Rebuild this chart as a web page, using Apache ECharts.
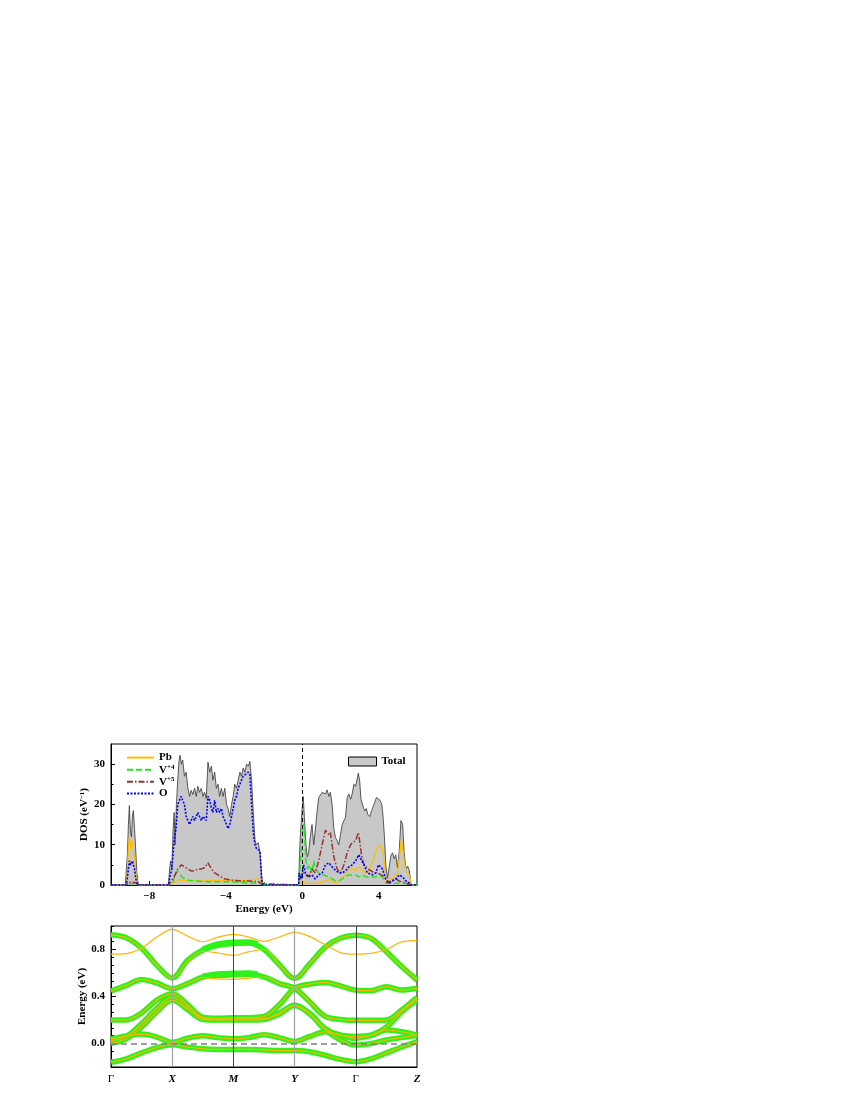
<!DOCTYPE html>
<html><head><meta charset="utf-8">
<script src="https://cdn.jsdelivr.net/npm/echarts@6.0.0/dist/echarts.min.js"></script>
<style>html,body{margin:0;padding:0;background:#fff}#c{width:850px;height:1100px}</style>
</head><body><div id="c"></div>
<script>
// ---------- DOS panel data: [energy (eV), DOS] ----------
const DOS_TOTAL = [[-10,0],[-9.25,0],[-9.23,0],[-9.14,8],[-9.09,15],[-9.04,19.7],[-8.98,13],[-8.93,12],[-8.88,17],[-8.83,18.5],[-8.77,14],[-8.72,10],[-8.65,3],[-8.58,0.5],[-8.53,0],
[-7.0,0],[-6.95,3],[-6.89,6],[-6.82,4],[-6.75,14],[-6.7,18],[-6.65,10],[-6.58,20],[-6.51,26],[-6.44,31],[-6.39,32.2],[-6.32,30],[-6.25,31],[-6.16,27],[-6.07,28],[-5.98,24],[-5.89,22],[-5.81,23.5],[-5.72,22.5],[-5.63,24],[-5.54,22],[-5.46,24.5],[-5.37,23],[-5.28,24],[-5.19,22],[-5.11,23],[-5.02,21.5],[-4.93,30.5],[-4.84,28],[-4.75,29.5],[-4.67,26],[-4.58,28],[-4.49,24],[-4.4,25],[-4.32,22],[-4.23,24],[-4.14,22],[-4.05,24],[-3.96,20],[-3.88,19],[-3.79,17],[-3.7,20],[-3.61,22],[-3.53,25],[-3.44,24],[-3.35,26],[-3.26,28],[-3.18,27],[-3.09,29],[-3.0,28],[-2.91,30],[-2.82,29.5],[-2.74,30.7],[-2.65,26],[-2.56,18],[-2.47,11],[-2.39,10],[-2.3,10.5],[-2.21,8],[-2.12,2],[-2.04,0],
[-0.19,0],[-0.14,8],[-0.09,13],[-0.02,18],[0.05,22],[0.11,17],[0.18,11],[0.26,7],[0.33,8],[0.42,12],[0.51,15],[0.6,10],[0.68,13.5],[0.77,18],[0.86,21.7],[0.95,22],[1.04,23],[1.12,23.4],[1.21,22.6],[1.3,23.6],[1.39,22],[1.47,23],[1.56,20],[1.65,14],[1.74,11.75],[1.82,11],[1.91,10],[2.0,12.5],[2.09,15],[2.18,16],[2.26,16.75],[2.35,21.7],[2.44,22.6],[2.53,21.3],[2.61,22.6],[2.7,25],[2.79,24.5],[2.86,26],[2.93,27.75],[3.0,26],[3.07,21.3],[3.14,21],[3.21,19],[3.28,18.4],[3.35,19],[3.42,17.6],[3.53,17],[3.63,18.5],[3.75,20],[3.88,21.75],[3.98,22],[4.07,21],[4.16,20],[4.23,16.75],[4.3,11.75],[4.37,5],[4.46,1.75],[4.54,2],[4.63,7.2],[4.72,8],[4.81,6.5],[4.89,7.5],[4.98,4.25],[5.07,8.4],[5.16,16],[5.25,15],[5.33,8],[5.42,4],[5.51,4.7],[5.6,3.5],[5.68,0.5],[5.77,0],[6,0]];

const DOS_PB = [[-10,0],[-9.2,0],[-9.14,3],[-9.09,9],[-9.04,12],[-8.98,9],[-8.93,10.5],[-8.88,11],[-8.83,8.5],[-8.77,7],[-8.72,4],[-8.65,1],[-8.55,0],[-7.0,0],[-6.8,0.3],[-6.6,0.8],[-6.45,1.3],[-6.3,1.2],[-6.0,1.0],[-5.5,1.0],[-5.0,1.0],[-4.5,1.1],[-4.0,1.2],[-3.5,1.3],[-3.0,1.1],[-2.6,1.3],[-2.3,1.5],[-2.12,0.5],[-2.04,0],[-0.19,0],[-0.02,1],[0.18,0.5],[0.51,0.3],[0.86,0.5],[1.21,1],[1.39,1.5],[1.56,1],[1.74,0.5],[1.91,1],[2.26,2.5],[2.44,4],[2.61,4],[2.79,3.5],[2.96,4.5],[3.14,3.5],[3.32,3],[3.5,3.5],[3.67,6],[3.84,8],[3.98,10],[4.1,9.5],[4.19,9],[4.28,6],[4.37,2],[4.46,0.5],[4.63,1.5],[4.81,2],[4.98,3],[5.11,8],[5.18,11.5],[5.25,9],[5.33,6],[5.42,3.5],[5.6,2.5],[5.68,0.5],[5.77,0],[6,0]];

const DOS_V4 = [[-10,0],[-9.2,0],[-9.0,0.3],[-8.7,0.3],[-8.55,0],[-7.0,0],[-6.75,0.5],[-6.7,2],[-6.55,3.5],[-6.42,3],[-6.3,2],[-6.12,1.5],[-5.95,1.2],[-5.6,1],[-4.9,0.8],[-4.0,0.8],[-3.2,0.7],[-2.8,0.4],[-2.4,0.5],[-2.1,0.2],[-2.04,0],[-0.19,0],[-0.1,5],[-0.02,12],[0.07,15.2],[0.12,13],[0.19,6],[0.28,4],[0.37,5],[0.51,3],[0.6,6],[0.68,4],[0.86,3],[1.12,2.5],[1.39,2],[1.56,1.5],[1.74,1],[1.91,1],[2.09,1.5],[2.26,2],[2.44,2.5],[2.61,2.5],[2.79,2.5],[2.96,2],[3.14,2.5],[3.32,2],[3.5,2],[3.67,2],[3.84,2],[4.02,2.5],[4.19,2],[4.37,0.5],[4.72,0.3],[5.07,0.5],[5.42,0.3],[5.7,0],[6,0]];

const DOS_V5 = [[-10,0],[-9.2,0],[-9.1,0.6],[-8.9,0.8],[-8.7,0.5],[-8.55,0],[-7.0,0],[-6.7,2],[-6.5,4],[-6.32,5],[-6.16,4.5],[-5.98,4],[-5.81,3.5],[-5.63,3.5],[-5.46,4],[-5.28,4],[-5.11,4.3],[-4.93,5.5],[-4.75,4],[-4.58,3],[-4.4,2.5],[-4.23,2],[-4.05,1.5],[-3.7,1.2],[-3.18,1],[-2.82,1],[-2.3,0.8],[-2.1,0.3],[-2.04,0],[-0.19,0],[-0.1,2],[0.07,3],[0.33,2],[0.51,4],[0.68,3],[0.86,6],[1.04,10],[1.21,13.6],[1.39,12.5],[1.47,13],[1.56,10],[1.65,7],[1.82,4],[2.0,3],[2.18,5],[2.35,8],[2.53,10],[2.61,10.5],[2.79,11],[2.93,13],[3.0,11],[3.11,7],[3.23,5],[3.42,4],[3.6,3.5],[3.77,3],[3.95,3],[4.12,2.5],[4.3,2],[4.46,0.5],[4.63,1],[4.89,1.5],[5.07,1],[5.25,0.7],[5.42,0.5],[5.68,0],[6,0]];

const DOS_O = [[-10,0],[-9.2,0],[-9.14,2],[-9.09,4],[-9.04,6],[-8.98,5],[-8.93,5.5],[-8.88,6],[-8.83,5],[-8.77,4],[-8.7,1.5],[-8.6,0],[-7.0,0],[-6.92,2],[-6.82,4],[-6.75,8],[-6.68,12],[-6.6,14],[-6.51,20],[-6.42,21],[-6.33,22],[-6.25,21],[-6.16,20],[-6.07,17],[-5.98,16],[-5.89,15],[-5.81,16],[-5.72,17],[-5.63,16],[-5.54,17],[-5.46,18],[-5.37,17],[-5.28,16],[-5.19,17],[-5.11,17],[-5.02,16],[-4.93,22],[-4.84,21],[-4.75,19],[-4.67,18],[-4.58,21],[-4.49,18],[-4.4,19],[-4.32,18],[-4.23,19],[-4.14,17],[-4.05,16],[-3.96,15],[-3.88,14],[-3.79,15],[-3.7,17],[-3.61,19],[-3.53,21],[-3.44,22],[-3.35,24],[-3.26,25],[-3.18,26],[-3.09,27],[-3.0,27],[-2.82,28],[-2.74,27.5],[-2.65,20],[-2.56,13],[-2.47,10],[-2.39,9],[-2.3,9],[-2.21,8.5],[-2.12,1],[-2.04,0],[-0.19,0],[-0.16,3],[-0.05,1.5],[0.07,5],[0.16,3],[0.33,2],[0.51,2.5],[0.68,1.5],[0.86,2.5],[1.04,3],[1.21,5],[1.39,5.5],[1.47,5],[1.65,4],[1.91,3],[2.09,3],[2.26,3.5],[2.44,4.5],[2.61,5],[2.79,6],[2.96,7.5],[3.11,6],[3.23,5],[3.4,3],[3.67,2.5],[3.84,3],[3.98,5],[4.1,4.5],[4.19,4],[4.37,1.5],[4.54,0.5],[4.72,1],[4.89,1.5],[5.07,2.5],[5.25,2],[5.42,1],[5.6,0.5],[5.68,0],[6,0]];

const DOS_X_LABELS = [-8, -4, 0, 4];
const DOS_X_MINOR = [-6, -2, 2];
const DOS_Y_LABELS = [0, 10, 20, 30];
const DOS_Y_MINOR = [5, 15, 25];

// ---------- band structure data ----------
const K_NAMES = ['Γ', 'X', 'M', 'Y', 'Γ', 'Z'];
const K = [0,0.25,0.5,0.75,1,1.25,1.5,1.75,2,2.25,2.5,2.75,3,3.25,3.5,3.75,4,4.25,4.5,4.75,5];
const BAND_T = [0.925,0.9,0.81,0.665,0.557,0.708,0.795,0.835,0.85,0.855,0.8,0.67,0.553,0.68,0.82,0.898,0.922,0.895,0.78,0.655,0.54];
const CORE_T = [0.925,0.9,0.81,0.665,0.557,0.70,0.785,0.77,0.75,0.78,0.8,0.67,0.553,0.68,0.82,0.898,0.922,0.895,0.78,0.655,0.54];
const BAND_B = [0.447,0.495,0.545,0.515,0.467,0.51,0.566,0.58,0.585,0.59,0.566,0.51,0.47,0.353,0.23,0.205,0.197,0.197,0.2,0.285,0.393];
const CORE_B = [0.447,0.495,0.545,0.515,0.467,0.51,0.56,0.55,0.546,0.555,0.566,0.51,0.47,0.353,0.23,0.205,0.197,0.197,0.2,0.285,0.393];
const BAND_Q = [0.2,0.2,0.26,0.37,0.424,0.33,0.225,0.215,0.22,0.22,0.23,0.33,0.47,0.505,0.52,0.49,0.454,0.45,0.484,0.455,0.47];
const BAND_R = [0.025,0.06,0.17,0.3,0.395,0.31,0.215,0.205,0.21,0.21,0.21,0.25,0.325,0.254,0.126,0.07,0.06,0.07,0.14,0.27,0.37];
const BAND_S = [0.0,0.04,0.14,0.27,0.37,0.29,0.205,0.2,0.2,0.2,0.205,0.26,0.325,0.25,0.12,0.03,-0.013,0.0,0.03,0.05,0.07];
const BAND_H = [0.04,0.065,0.08,0.055,0.01,0.045,0.065,0.05,0.04,0.05,0.075,0.05,0.018,0.06,0.1,0.07,0.044,0.07,0.115,0.1,0.072];
const BAND_L = [-0.16,-0.13,-0.08,-0.035,-0.01,-0.03,-0.045,-0.05,-0.05,-0.05,-0.055,-0.06,-0.06,-0.07,-0.1,-0.135,-0.155,-0.13,-0.08,-0.03,0.016];
const BAND_PB = [0.76,0.765,0.81,0.906,0.972,0.915,0.866,0.905,0.929,0.906,0.87,0.906,0.945,0.91,0.84,0.773,0.76,0.767,0.8,0.865,0.875];
// fat (thicker) weight near M
const FAT_K = [1.5,1.75,2,2.25,2.4];
const FAT_T = [0.8,0.845,0.86,0.862,0.845];
const FAT_B = [0.57,0.59,0.595,0.598,0.588];
const E_LABELS = [0, 0.4, 0.8];
const E_MINOR = [-0.2,-0.1333,-0.0667,0.0667,0.1333,0.2,0.2667,0.3333,0.4667,0.5333,0.6,0.6667,0.7333,0.8667,0.9333,1.0];

const FONT = 'Liberation Serif';
const pairs = (xs, ys) => xs.map((x, i) => [x, ys[i]]);
const minus = v => (v < 0 ? '\u2212' + Math.abs(v) : String(v));

const GREEN = '#2ef21a';
const ORANGE = '#ffb400';

const lineAxis = { show: true, onZero: false, lineStyle: { color: '#000', width: 1 } };
const noLine = { show: false, onZero: false };
const labelStyle = { color: '#000', fontFamily: FONT, fontWeight: 'bold', fontSize: 11 };
const nameStyle = { color: '#000', fontFamily: FONT, fontWeight: 'bold', fontSize: 11 };

function greenSeries(name, data, width) {
  return { name, type: 'line', xAxisIndex: 2, yAxisIndex: 2, data, smooth: 0.35, symbol: 'none',
    lineStyle: { color: GREEN, width: width || 5.5, cap: 'butt' }, z: 2, silent: true };
}
function orangeSeries(name, data) {
  return { name, type: 'line', xAxisIndex: 2, yAxisIndex: 2, data, smooth: 0.35, symbol: 'none',
    lineStyle: { color: ORANGE, width: 1.2 }, z: 3, silent: true };
}

const supRich = {
  n: { fontFamily: FONT, fontWeight: 'bold', fontSize: 11, color: '#000' },
  s: { fontFamily: FONT, fontWeight: 'bold', fontSize: 7, color: '#000', verticalAlign: 'top', padding: [0, 0, 5, 0] }
};

const option = {
  animation: false,
  backgroundColor: '#fff',
  grid: [
    { left: 111, top: 744, width: 306, height: 141, show: true, borderColor: '#000', borderWidth: 1, backgroundColor: 'transparent' },
    { left: 111, top: 926, width: 306, height: 141, show: true, borderColor: '#000', borderWidth: 1, backgroundColor: 'transparent' }
  ],
  legend: [
    { data: ['Pb', 'V+4', 'V+5', 'O'], orient: 'vertical', left: 121, top: 747, itemWidth: 27, itemHeight: 14, itemGap: 0.5,
      itemStyle: { opacity: 0 },
      textStyle: { fontFamily: FONT, fontWeight: 'bold', fontSize: 11, color: '#000', rich: supRich },
      formatter: n => n === 'V+4' ? '{n|V}{s|+4}' : (n === 'V+5' ? '{n|V}{s|+5}' : '{n|' + n + '}') },
    { data: [{ name: 'Total', icon: 'rect', itemStyle: { color: '#c8c8c8', borderColor: '#000', borderWidth: 1 } }],
      left: 343, top: 751, itemWidth: 28, itemHeight: 9, itemGap: 8,
      textStyle: { fontFamily: FONT, fontWeight: 'bold', fontSize: 11, color: '#000' } }
  ],
  xAxis: [
    { type: 'value', gridIndex: 0, min: -10, max: 6, position: 'bottom', axisLine: lineAxis, splitLine: { show: false },
      axisTick: { show: true, inside: true, length: 4, customValues: DOS_X_LABELS, lineStyle: { color: '#000' } },
      axisLabel: Object.assign({}, labelStyle, { customValues: DOS_X_LABELS, formatter: minus, margin: 6 }),
      name: 'Energy (eV)', nameLocation: 'middle', nameGap: 19, nameTextStyle: nameStyle },
    { type: 'value', gridIndex: 0, min: -10, max: 6, position: 'bottom', axisLine: noLine, splitLine: { show: false }, axisLabel: { show: false },
      axisTick: { show: true, inside: true, length: 2.5, customValues: DOS_X_MINOR, lineStyle: { color: '#000' } } },
    { type: 'value', gridIndex: 1, min: 0, max: 5, position: 'bottom', axisLine: lineAxis, splitLine: { show: false },
      axisTick: { show: false },
      axisLabel: { customValues: [0, 1, 2, 3, 4, 5], margin: 7,
        formatter: v => { const s = K_NAMES[Math.round(v)]; return s === 'Γ' ? '{g|Γ}' : '{i|' + s + '}'; },
        rich: { g: { fontFamily: FONT, fontSize: 11, color: '#000' },
                i: { fontFamily: FONT, fontSize: 11, fontStyle: 'italic', fontWeight: 'bold', color: '#000' } } } }
  ],
  yAxis: [
    { type: 'value', gridIndex: 0, min: 0, max: 35, position: 'left', axisLine: lineAxis, splitLine: { show: false },
      axisTick: { show: true, inside: true, length: 4, customValues: DOS_Y_LABELS, lineStyle: { color: '#000' } },
      axisLabel: Object.assign({}, labelStyle, { customValues: DOS_Y_LABELS, margin: 6 }),
      name: 'DOS (eV{s|\u22121})', nameLocation: 'middle', nameGap: 19,
      nameTextStyle: Object.assign({}, nameStyle, { rich: { s: { fontFamily: FONT, fontWeight: 'bold', fontSize: 7, verticalAlign: 'top', padding: [0, 0, 5, 0] } } }) },
    { type: 'value', gridIndex: 0, min: 0, max: 35, position: 'left', axisLine: noLine, splitLine: { show: false }, axisLabel: { show: false },
      axisTick: { show: true, inside: true, length: 2.5, customValues: DOS_Y_MINOR, lineStyle: { color: '#000' } } },
    { type: 'value', gridIndex: 1, min: -0.2, max: 1.0, position: 'left', axisLine: lineAxis, splitLine: { show: false },
      axisTick: { show: true, inside: true, length: 5, customValues: E_LABELS, lineStyle: { color: '#000' } },
      axisLabel: Object.assign({}, labelStyle, { customValues: E_LABELS, formatter: v => v.toFixed(1), margin: 6 }),
      name: 'Energy (eV)', nameLocation: 'middle', nameGap: 19, nameTextStyle: nameStyle },
    { type: 'value', gridIndex: 1, min: -0.2, max: 1.0, position: 'left', axisLine: noLine, splitLine: { show: false }, axisLabel: { show: false },
      axisTick: { show: true, inside: true, length: 3, customValues: E_MINOR, lineStyle: { color: '#000' } } }
  ],
  series: [
    { name: 'Total', type: 'line', xAxisIndex: 0, yAxisIndex: 0, data: DOS_TOTAL, symbol: 'none',
      lineStyle: { color: '#333', width: 0.8 }, areaStyle: { color: '#c8c8c8', opacity: 1 }, z: 1 },
    { name: 'Pb', type: 'line', xAxisIndex: 0, yAxisIndex: 0, data: DOS_PB, symbol: 'none',
      lineStyle: { color: '#ffbf00', width: 1.3 }, itemStyle: { color: '#ffbf00' }, z: 3 },
    { name: 'V+4', type: 'line', xAxisIndex: 0, yAxisIndex: 0, data: DOS_V4, symbol: 'none',
      lineStyle: { color: '#1ee81e', width: 1.5, type: [6, 3] }, itemStyle: { color: '#1ee81e' }, z: 4 },
    { name: 'V+5', type: 'line', xAxisIndex: 0, yAxisIndex: 0, data: DOS_V5, symbol: 'none',
      lineStyle: { color: '#993333', width: 1.5, type: [6, 2, 1.5, 2] }, itemStyle: { color: '#993333' }, z: 5 },
    { name: 'O', type: 'line', xAxisIndex: 0, yAxisIndex: 0, data: DOS_O, symbol: 'none',
      lineStyle: { color: '#0000ff', width: 1.6, type: [2, 1.5] }, itemStyle: { color: '#0000ff' }, z: 6 },
    { name: 'fermiDOS', type: 'line', xAxisIndex: 0, yAxisIndex: 0, data: [], z: 8, silent: true,
      markLine: { silent: true, symbol: ['none', 'none'], label: { show: false },
        lineStyle: { color: '#000', type: [4, 3], width: 1 }, data: [{ xAxis: 0 }] } },

    greenSeries('gT', pairs(K, BAND_T)),
    greenSeries('gB', pairs(K, BAND_B)),
    greenSeries('gQ', pairs(K, BAND_Q)),
    greenSeries('gR', pairs(K, BAND_R)),
    greenSeries('gS', pairs(K, BAND_S)),
    greenSeries('gH', pairs(K, BAND_H)),
    greenSeries('gL', pairs(K, BAND_L)),
    greenSeries('fT', pairs(FAT_K, FAT_T), 6),
    greenSeries('fB', pairs(FAT_K, FAT_B), 6),
    orangeSeries('oT', pairs(K, CORE_T)),
    orangeSeries('oB', pairs(K, CORE_B)),
    orangeSeries('oQ', pairs(K, BAND_Q)),
    orangeSeries('oR', pairs(K, BAND_R)),
    orangeSeries('oS', pairs(K, BAND_S)),
    orangeSeries('oH', pairs(K, BAND_H)),
    orangeSeries('oL', pairs(K, BAND_L)),
    orangeSeries('oPb', pairs(K, BAND_PB)),
    { name: 'fermiBand', type: 'line', xAxisIndex: 2, yAxisIndex: 2, data: [], z: 10, silent: true,
      markLine: { silent: true, symbol: ['none', 'none'], label: { show: false },
        lineStyle: { color: '#808080', type: [6, 4], width: 1.6 }, data: [{ yAxis: 0 }] } },
    { name: 'kLinesLight', type: 'line', xAxisIndex: 2, yAxisIndex: 2, data: [], z: 10, silent: true,
      markLine: { silent: true, symbol: ['none', 'none'], label: { show: false },
        lineStyle: { color: '#a0a0a0', type: 'solid', width: 1.2 }, data: [{ xAxis: 1 }, { xAxis: 3 }] } },
    { name: 'kLinesDark', type: 'line', xAxisIndex: 2, yAxisIndex: 2, data: [], z: 10, silent: true,
      markLine: { silent: true, symbol: ['none', 'none'], label: { show: false },
        lineStyle: { color: '#404040', type: 'solid', width: 1 }, data: [{ xAxis: 2 }, { xAxis: 4 }] } }
  ]
};

const chart = echarts.init(document.getElementById('c'), null, { renderer: 'canvas' });
chart.setOption(option);
</script></body></html>
